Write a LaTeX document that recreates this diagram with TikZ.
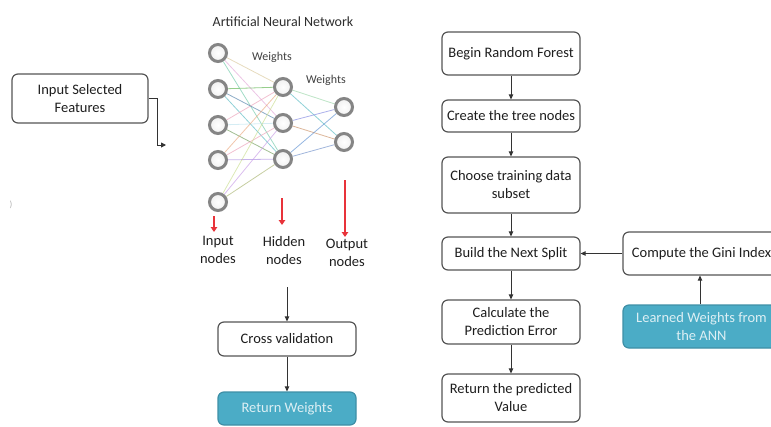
\documentclass[tikz,border=0pt]{standalone}
\usepackage{fontspec}
\setmainfont{Carlito}
\usetikzlibrary{arrows.meta,backgrounds}

\definecolor{boxline}{HTML}{555555}
\definecolor{textdark}{HTML}{1E1E1E}
\definecolor{tealfill}{HTML}{4BACC6}
\definecolor{tealline}{HTML}{3E8FA6}
\definecolor{tealtext}{HTML}{DCEFF4}
\definecolor{arrowgray}{HTML}{333333}
\definecolor{redline}{HTML}{E8333A}
\definecolor{ringgray}{HTML}{858585}
% pastel weight colours
\definecolor{wA}{HTML}{D9C89A}
\definecolor{wB}{HTML}{E2A6D8}
\definecolor{wC}{HTML}{6FC9A8}
\definecolor{wD}{HTML}{5DB34F}
\definecolor{wE}{HTML}{4E7FA8}
\definecolor{wF}{HTML}{55B9C2}
\definecolor{wG}{HTML}{EBA0B8}
\definecolor{wH}{HTML}{BFE4EE}
\definecolor{wI}{HTML}{6E9A57}
\definecolor{wJ}{HTML}{E9A77E}
\definecolor{wK}{HTML}{A98BE0}
\definecolor{wL}{HTML}{C9DD8E}
\definecolor{wM}{HTML}{C79BE6}
\definecolor{wN}{HTML}{A7B36E}
\definecolor{wO}{HTML}{9AD6A8}
\definecolor{wP}{HTML}{7F86E0}
\definecolor{wQ}{HTML}{C98E63}
\definecolor{wR}{HTML}{5C8FD1}
\definecolor{wS}{HTML}{6F8FC9}

\tikzset{
  box/.style={draw=boxline, line width=1.2pt, rounded corners=6pt, fill=white,
    align=center, text=textdark, inner sep=2pt,
    font=\fontsize{14.5}{18}\selectfont},
  tealbox/.style={box, fill=tealfill, draw=tealline, text=tealtext},
  arr/.style={-{Triangle[length=5pt,width=4.5pt]}, line width=0.9pt, draw=arrowgray},
  redarr/.style={-{Triangle[length=5pt,width=6.5pt]}, line width=2.8pt, draw=redline},
  neuron/.style={circle, minimum size=17pt, inner sep=0pt, draw=ringgray,
    line width=3pt, inner color=white, outer color=gray!12},
  wline/.style={line width=0.8pt, draw opacity=0.65},
  small/.style={text=gray!50!black, font=\fontsize{12}{13}\selectfont},
  lbl/.style={text=textdark, align=center, font=\fontsize{14.5}{18}\selectfont}
}

\begin{document}
\begin{tikzpicture}[x=1pt,y=-1pt]
\useasboundingbox (0,0) rectangle (771,426);
\clip (0,0) rectangle (771,426);

% ---------- input box ----------
\node[box, minimum width=136pt, minimum height=49pt] (feat) at (80,98.5)
  {Input Selected\\Features};
\coordinate (featend) at (166,145);
\draw[arr, -{Triangle[length=5pt,width=5pt]}] (feat.east |- 0,98) -- (157,98) -- (157,145) -- (featend);
\node[text=gray!60, font=\fontsize{9}{9}\selectfont] (edgemark) at (11,205) {)};

% ---------- neural network ----------
\node[text=gray!35!black, font=\fontsize{14}{16}\selectfont] (anntitle) at (283,22)
  {Artificial Neural Network};

\node[neuron] (i1) at (218,53) {};
\node[neuron] (i2) at (218,89) {};
\node[neuron] (i3) at (218,125) {};
\node[neuron] (i4) at (218,160) {};
\node[neuron] (i5) at (218,202) {};
\node[neuron] (h1) at (283,87) {};
\node[neuron] (h2) at (283,123) {};
\node[neuron] (h3) at (283,159) {};
\node[neuron] (o1) at (344,107) {};
\node[neuron] (o2) at (344,142) {};

\begin{scope}[on background layer]
  \draw[wline, wA] (i1) -- (h1);
  \draw[wline, wB] (i1) -- (h2);
  \draw[wline, wC] (i1) -- (h3);
  \draw[wline, wD] (i2) -- (h1);
  \draw[wline, wE] (i2) -- (h2);
  \draw[wline, wF] (i2) -- (h3);
  \draw[wline, wG] (i3) -- (h1);
  \draw[wline, wH] (i3) -- (h2);
  \draw[wline, wI] (i3) -- (h3);
  \draw[wline, wJ] (i4) -- (h1);
  \draw[wline, wG] (i4) -- (h2);
  \draw[wline, wK] (i4) -- (h3);
  \draw[wline, wL] (i5) -- (h1);
  \draw[wline, wM] (i5) -- (h2);
  \draw[wline, wN] (i5) -- (h3);
  \draw[wline, wO] (h1) -- (o1);
  \draw[wline, wF] (h1) -- (o2);
  \draw[wline, wP] (h2) -- (o1);
  \draw[wline, wQ] (h2) -- (o2);
  \draw[wline, wR] (h3) -- (o1);
  \draw[wline, wS] (h3) -- (o2);
\end{scope}

\node[small] (w1) at (272,57) {Weights};
\node[small] (w2) at (326,80) {Weights};

\draw[redarr] (214,216) -- (214,232);
\draw[redarr] (282,198) -- (282,225);
\draw[redarr] (345,180) -- (345,237);

\node[lbl] (inlbl)  at (218,250) {Input\\nodes};
\node[lbl] (hidlbl) at (284,251) {Hidden\\nodes};
\node[lbl] (outlbl) at (347,253) {Output\\nodes};

% ---------- validation ----------
\node[box, minimum width=138pt, minimum height=34pt] (cv) at (287,339) {Cross validation};
\node[tealbox, minimum width=138pt, minimum height=33pt] (rw) at (287,408.5) {Return Weights};
\coordinate (annout) at (287,287);
\draw[arr] (annout) -- (cv);
\draw[arr] (cv) -- (rw);

% ---------- random forest ----------
\node[box, minimum width=138pt, minimum height=43pt] (rf1) at (511,53.5) {Begin Random Forest};
\node[box, minimum width=138pt, minimum height=32pt] (rf2) at (511,116) {Create the tree nodes};
\node[box, minimum width=138pt, minimum height=56pt] (rf3) at (511,185) {Choose training data\\subset};
\node[box, minimum width=138pt, minimum height=33pt] (rf4) at (511,253.5) {Build the Next Split};
\node[box, minimum width=138pt, minimum height=44pt] (rf5) at (511,322) {Calculate the\\Prediction Error};
\node[box, minimum width=138pt, minimum height=48pt] (rf6) at (511,398) {Return the predicted\\Value};

\node[box, minimum width=157pt, minimum height=43pt] (gini) at (701.5,253.5) {Compute the Gini Index};
\node[tealbox, minimum width=157pt, minimum height=43pt] (learn) at (701.5,326.5) {Learned Weights from\\the ANN};

\draw[arr] (rf1) -- (rf2);
\draw[arr] (rf2) -- (rf3);
\draw[arr] (rf3) -- (rf4);
\draw[arr] (rf4) -- (rf5);
\draw[arr] (rf5) -- (rf6);
\draw[arr] (gini) -- (rf4);
\draw[arr] (learn.north -| 700,0) -- (gini.south -| 700,0);
\end{tikzpicture}
\end{document}
